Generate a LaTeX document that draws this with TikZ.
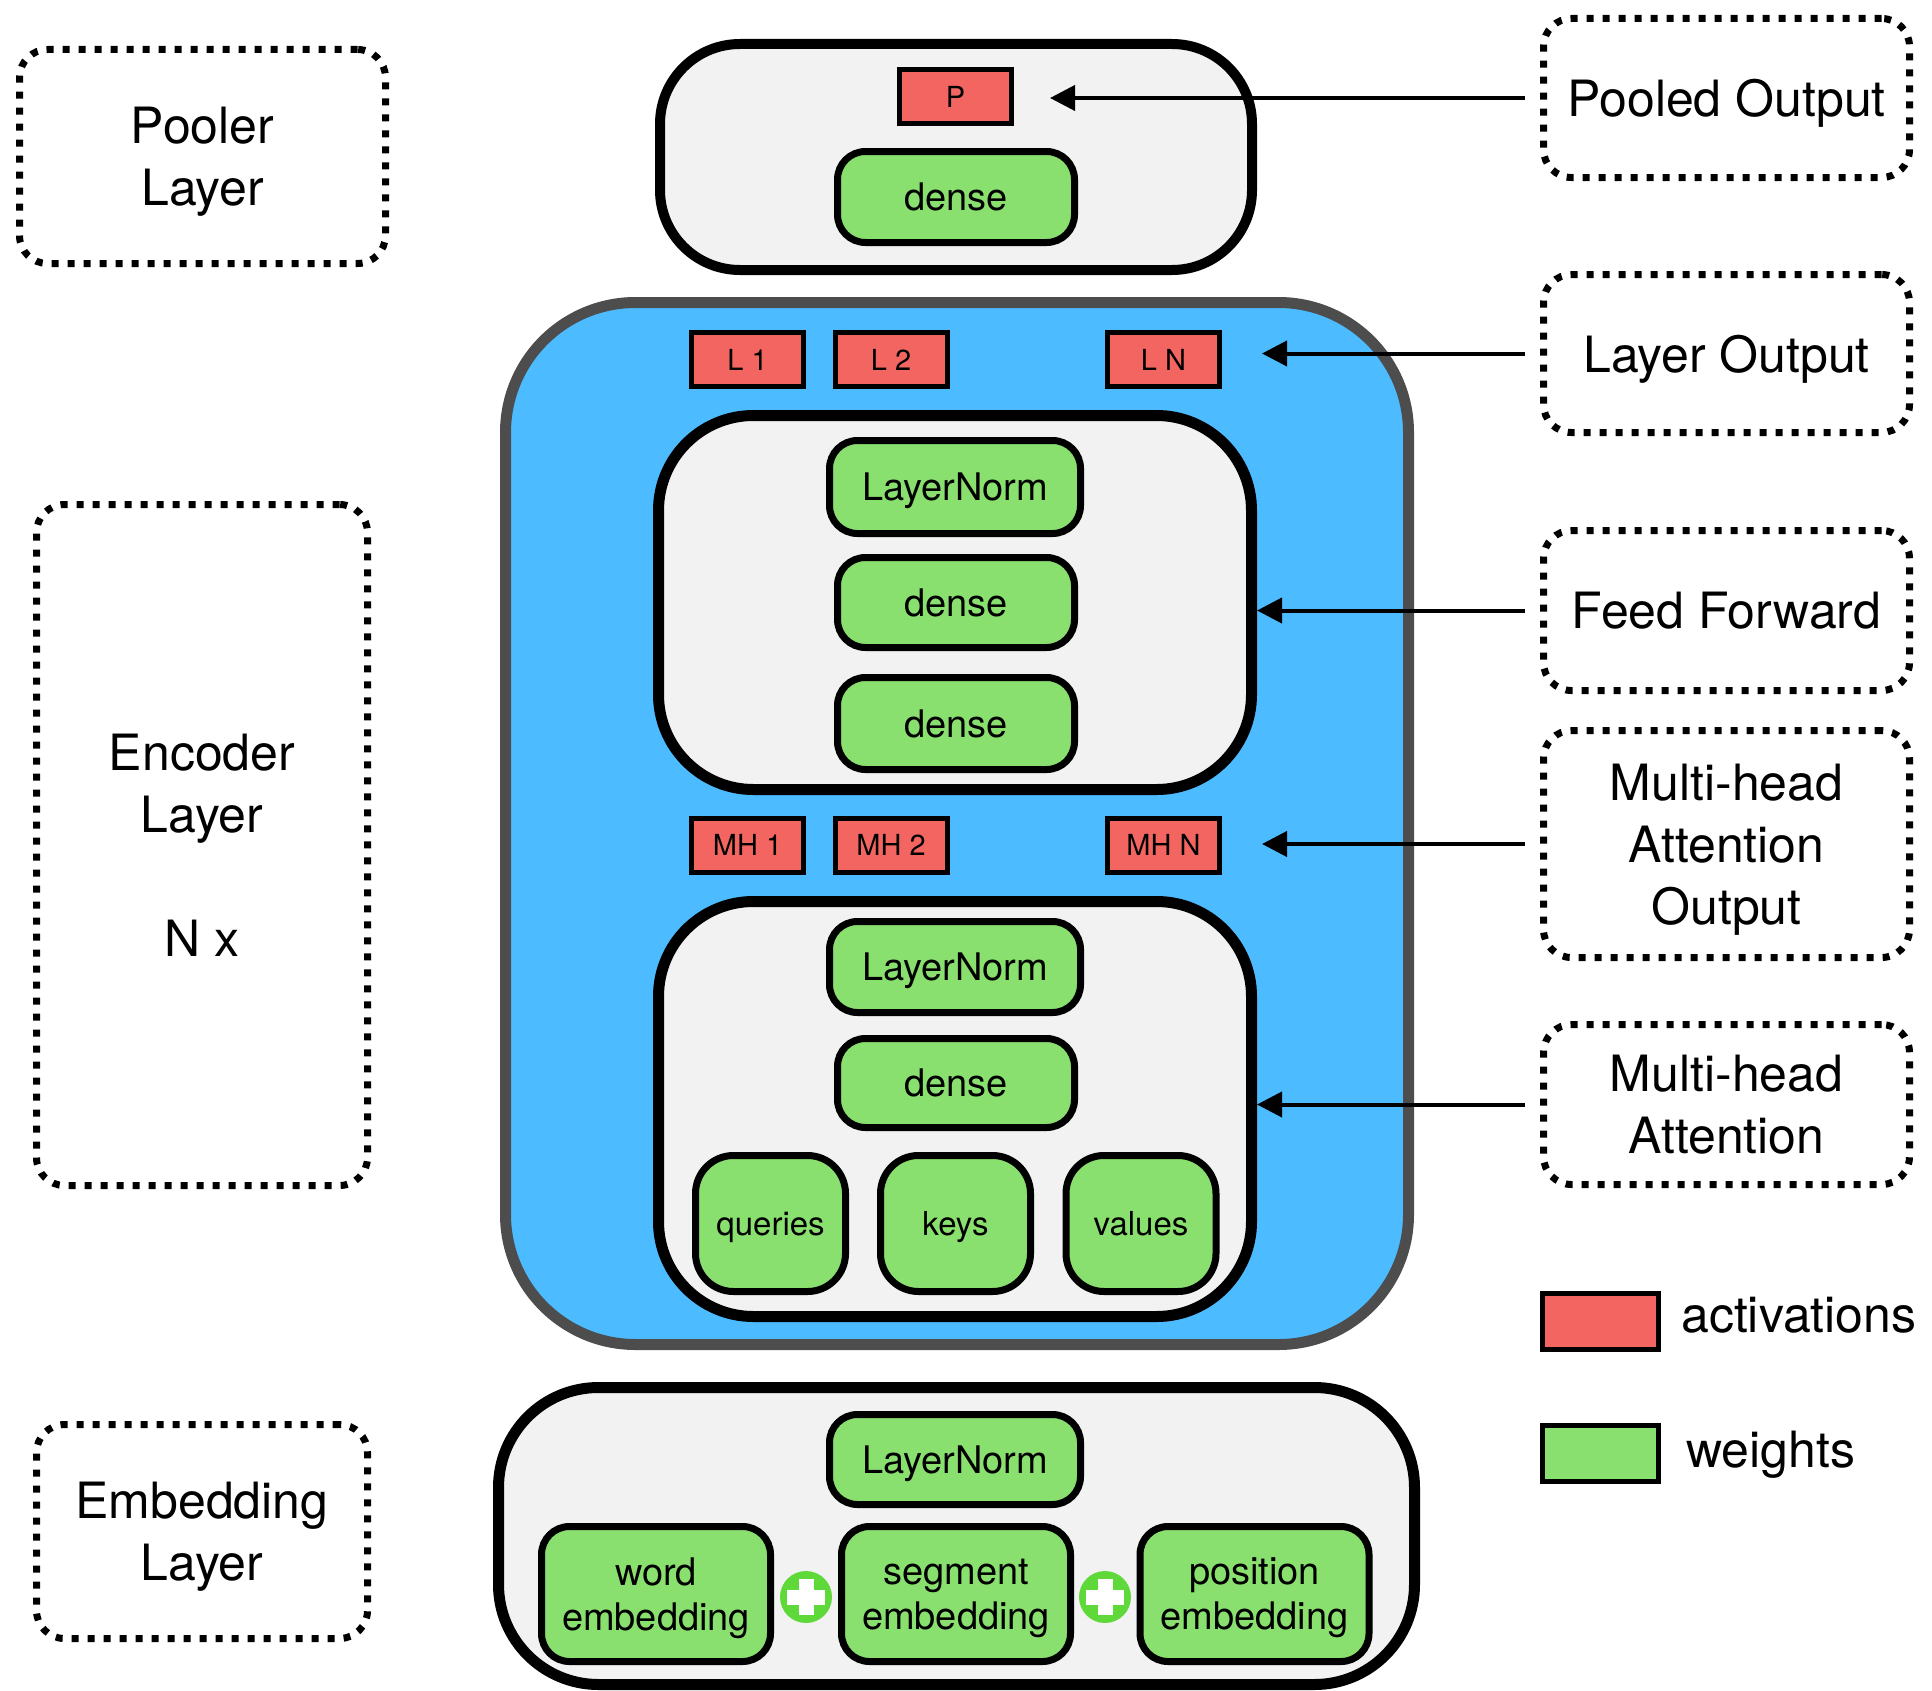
\documentclass[tikz,border=0pt]{standalone}
\usepackage{fontspec}
\setmainfont{TeX Gyre Heros}
\usetikzlibrary{arrows.meta,calc}

\definecolor{actred}{RGB}{242,101,96}
\definecolor{wgreen}{RGB}{138,224,111}
\definecolor{encblue}{RGB}{76,187,255}
\definecolor{panel}{RGB}{242,242,242}
\definecolor{rim}{RGB}{77,77,77}
\definecolor{plusgreen}{RGB}{95,216,58}

\begin{document}
\begin{tikzpicture}[x=1pt,y=-1pt,
  every node/.style={inner sep=0pt, align=center, text=black, text depth=0pt},
  panelbox/.style={draw=black, line width=11pt, fill=panel, rounded corners=95pt},
  weightbox/.style={draw=black, line width=7pt, fill=wgreen, rounded corners=28pt,
    font=\fontsize{38}{45}\selectfont},
  actbox/.style={draw=black, line width=5pt, fill=actred,
    minimum width=112pt, minimum height=54pt, font=\fontsize{29}{35}\selectfont},
  notebox/.style={draw=black, line width=7pt, dash pattern=on 7pt off 9pt,
    rounded corners=28pt, font=\fontsize{50}{62}\selectfont},
  bigtext/.style={font=\fontsize{50}{62}\selectfont},
  arr/.style={line width=4pt, -{Triangle[length=25pt,width=25pt]}},
  plusdisk/.style={circle, fill=plusgreen, minimum size=52pt}
]
\useasboundingbox (0,0) rectangle (1932,1691);

% ---------- pooler ----------
\node[panelbox, line width=10pt, rounded corners=80pt,
      minimum width=592pt, minimum height=226pt] (pooler) at (956,157) {};
\node[actbox] (P) at (955.5,97) {P};
\node[weightbox, minimum width=237pt, minimum height=91pt] (pdense) at (956,197) {dense};

% ---------- encoder layer ----------
\node[draw=rim, line width=11pt, fill=encblue, rounded corners=130pt,
      minimum width=903pt, minimum height=1042pt] (enc) at (957,823.5) {};

\node[actbox] (L1) at (747.5,359.5) {L 1};
\node[actbox] (L2) at (891,359.5) {L 2};
\node[actbox] (LN) at (1163.5,359.5) {L N};

% feed forward block
\node[panelbox, minimum width=593pt, minimum height=374pt] (ffbox) at (955,602.5) {};
\node[weightbox, minimum width=251pt, minimum height=93pt] (ffnorm) at (955,487) {LayerNorm};
\node[weightbox, minimum width=237pt, minimum height=90pt] (ffd1) at (956,602.5) {dense};
\node[weightbox, minimum width=237pt, minimum height=92pt] (ffd2) at (956,723.5) {dense};

\node[actbox] (MH1) at (747.5,845) {MH 1};
\node[actbox] (MH2) at (891,845) {MH 2};
\node[actbox] (MHN) at (1163.5,845) {MH N};

% attention block
\node[panelbox, minimum width=593pt, minimum height=415pt] (attbox) at (955,1109) {};
\node[weightbox, minimum width=251pt, minimum height=91pt] (attnorm) at (955,967) {LayerNorm};
\node[weightbox, minimum width=237pt, minimum height=89pt] (attdense) at (956,1083) {dense};
\node[weightbox, rounded corners=38pt, font=\fontsize{33}{40}\selectfont,
      minimum width=150pt, minimum height=136pt] (q) at (770.5,1223.5) {queries};
\node[weightbox, rounded corners=38pt, font=\fontsize{33}{40}\selectfont,
      minimum width=150pt, minimum height=136pt] (k) at (955.5,1223.5) {keys};
\node[weightbox, rounded corners=38pt, font=\fontsize{33}{40}\selectfont,
      minimum width=150pt, minimum height=136pt] (v) at (1141,1223.5) {values};

% ---------- embedding layer ----------
\node[panelbox, rounded corners=100pt, minimum width=916pt, minimum height=297pt] (emb) at (956.5,1536) {};
\node[weightbox, minimum width=251pt, minimum height=90pt] (embnorm) at (955,1459.5) {LayerNorm};
\node[weightbox, minimum width=229pt, minimum height=135pt] (word) at (656,1594) {word\\embedding};
\node[weightbox, minimum width=229pt, minimum height=135pt] (segment) at (956,1594) {segment\\embedding};
\node[weightbox, minimum width=229pt, minimum height=135pt] (position) at (1254.5,1594) {position\\embedding};

\node[plusdisk] (plus1) at (806,1597) {};
\node[plusdisk] (plus2) at (1105,1597) {};
\foreach \p in {plus1,plus2}{
  \fill[white] ($(\p)+(-19,-7.5)$) rectangle ($(\p)+(19,7.5)$);
  \fill[white] ($(\p)+(-7.5,-18)$) rectangle ($(\p)+(7.5,18)$);
}

% ---------- left annotations ----------
\node[notebox, minimum width=366pt, minimum height=214pt] (poolnote) at (202.5,156.5) {Pooler\\Layer};
\node[notebox, minimum width=331pt, minimum height=681pt] (encnote) at (202,845) {Encoder\\Layer\\[62pt]N x};
\node[notebox, minimum width=331pt, minimum height=214pt] (embnote) at (202,1531.5) {Embedding\\Layer};

% ---------- right annotations ----------
\node[notebox, minimum width=366pt, minimum height=159pt] (pooledout) at (1726.5,98) {Pooled Output};
\node[notebox, minimum width=366pt, minimum height=158pt] (layerout) at (1726.5,353.5) {Layer Output};
\node[notebox, minimum width=366pt, minimum height=160pt] (ffnote) at (1726.5,610.5) {Feed Forward};
\node[notebox, minimum width=366pt, minimum height=227pt] (mhonote) at (1726.5,844) {Multi-head\\Attention\\Output};
\node[notebox, minimum width=366pt, minimum height=160pt] (mhanote) at (1726.5,1104.5) {Multi-head\\Attention};

\draw[arr] ([xshift=-15pt]pooledout.west) -- ([xshift=36pt]P.east |- pooledout.west);
\draw[arr] ([xshift=-15pt]layerout.west) -- ([xshift=40pt]LN.east |- layerout.west);
\draw[arr] ([xshift=-15pt]ffnote.west) -- (ffbox.east |- ffnote.west);
\draw[arr] ([xshift=-15pt]mhonote.west) -- ([xshift=40pt]MHN.east |- mhonote.west);
\draw[arr] ([xshift=-15pt]mhanote.west) -- (attbox.east |- mhanote.west);

% ---------- legend ----------
\node[actbox, minimum width=116pt, minimum height=56pt] (legact) at (1600.5,1321.5) {};
\node[draw=black, line width=5pt, fill=wgreen, minimum width=116pt, minimum height=56pt] (legw) at (1600.5,1453) {};
\node[bigtext, anchor=base west] (legacttxt) at (1681,1332) {activations};
\node[bigtext, anchor=base west] (legwtxt) at (1686,1467) {weights};
\end{tikzpicture}
\end{document}
